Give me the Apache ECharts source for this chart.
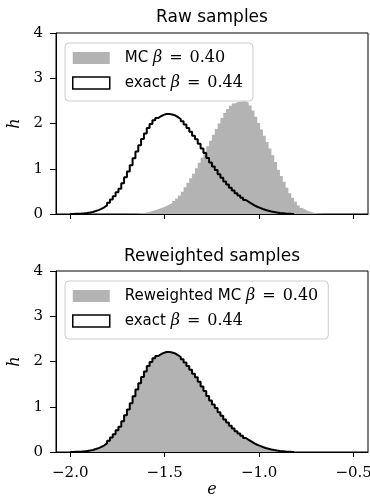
<!DOCTYPE html>
<html>
<head>
<meta charset="utf-8">
<script src="https://cdn.jsdelivr.net/npm/echarts@6/dist/echarts.min.js"></script>
<style>
  html, body { margin: 0; padding: 0; background: #fff; }
  #main { width: 370px; height: 502px; }
</style>
</head>
<body>
<div id="main"></div>
<script>
// histogram bins: 100 bins of width 0.015 from e = -2.0 to -0.5
var binStart = -2.0;
var binWidth = 0.015;
var xTicks = [-2.0, -1.5, -1.0, -0.5];
var titles = ["Raw samples", "Reweighted samples"];
var mcLabels = ["MC", "Reweighted MC"];
var betas = ["0.40", "0.44"];

// exact beta = 0.44
var exactB044 = [
  0.001, 0.003, 0.005, 0.009, 0.014, 0.021, 0.031, 0.046, 0.065, 0.086,
  0.112, 0.148, 0.192, 0.25, 0.32, 0.39, 0.48, 0.56, 0.68, 0.81,
  0.94, 1.08, 1.23, 1.38, 1.52, 1.66, 1.78, 1.90, 1.99, 2.07,
  2.12, 2.16, 2.19, 2.21, 2.21, 2.20, 2.18, 2.14, 2.10, 2.05,
  1.98, 1.90, 1.82, 1.73, 1.65, 1.55, 1.45, 1.35, 1.24, 1.14,
  1.05, 0.97, 0.88, 0.80, 0.72, 0.65, 0.58, 0.52, 0.46, 0.41,
  0.36, 0.31, 0.27, 0.23, 0.19, 0.16, 0.135, 0.11, 0.09, 0.072,
  0.055, 0.043, 0.033, 0.024, 0.018, 0.012, 0.007, 0.004, 0.002, 0,
  0, 0, 0, 0, 0, 0, 0, 0, 0, 0,
  0, 0, 0, 0, 0, 0, 0, 0, 0, 0
];

// raw MC samples at beta = 0.40
var mcRawB040 = [
  0, 0, 0, 0, 0, 0, 0, 0, 0, 0,
  0, 0, 0, 0, 0, 0, 0, 0, 0, 0,
  0.003, 0.005, 0.008, 0.012, 0.017, 0.024, 0.033, 0.045, 0.065, 0.085,
  0.105, 0.125, 0.15, 0.175, 0.21, 0.245, 0.29, 0.34, 0.41, 0.49,
  0.59, 0.69, 0.79, 0.89, 1.01, 1.13, 1.25, 1.38, 1.50, 1.62,
  1.75, 1.88, 2.00, 2.12, 2.23, 2.32, 2.39, 2.44, 2.47, 2.48,
  2.49, 2.49, 2.46, 2.40, 2.29, 2.15, 2.01, 1.87, 1.73, 1.59,
  1.45, 1.30, 1.15, 0.98, 0.84, 0.71, 0.58, 0.46, 0.36, 0.27,
  0.19, 0.135, 0.095, 0.065, 0.045, 0.03, 0.018, 0.01, 0.005, 0.002,
  0, 0, 0, 0, 0, 0, 0, 0, 0, 0
];

// MC samples at beta = 0.40 reweighted to beta = 0.44
var mcReweighted = [
  0.001, 0.003, 0.005, 0.009, 0.014, 0.021, 0.031, 0.046, 0.065, 0.086,
  0.112, 0.148, 0.192, 0.25, 0.32, 0.39, 0.48, 0.56, 0.68, 0.81,
  0.94, 1.08, 1.23, 1.38, 1.52, 1.66, 1.78, 1.90, 1.99, 2.07,
  2.12, 2.16, 2.19, 2.21, 2.21, 2.20, 2.18, 2.14, 2.10, 2.05,
  1.98, 1.90, 1.82, 1.73, 1.65, 1.55, 1.45, 1.35, 1.24, 1.14,
  1.05, 0.97, 0.88, 0.80, 0.72, 0.65, 0.58, 0.52, 0.46, 0.41,
  0.36, 0.31, 0.27, 0.23, 0.19, 0.16, 0.135, 0.11, 0.09, 0.072,
  0.055, 0.043, 0.033, 0.024, 0.018, 0.012, 0.007, 0.004, 0.002, 0,
  0, 0, 0, 0, 0, 0, 0, 0, 0, 0,
  0, 0, 0, 0, 0, 0, 0, 0, 0, 0
];

var gray = "#b3b3b3";
var serif = "DejaVu Serif";
var sans = "DejaVu Sans";

// step outline points: [left edge, height] for each bin, closed down to 0
function histPoints(values) {
  var first = -1, last = -1;
  for (var i = 0; i < values.length; i++) {
    if (values[i] > 0) { if (first < 0) first = i; last = i; }
  }
  var pts = [[binStart + first * binWidth, 0]];
  for (var j = first; j <= last; j++) {
    pts.push([binStart + j * binWidth, values[j]]);
  }
  pts.push([binStart + (last + 1) * binWidth, 0]);
  return pts;
}

function fmtTick(v) {
  return (v < 0 ? "\u2212" : "") + Math.abs(v).toFixed(1);
}

function legendLabel(text, beta) {
  return "{t|" + text + " }{b|β}{q|=}{m|" + beta + "}";
}

var legendText = {
  raw_mc: legendLabel(mcLabels[0], betas[0]),
  raw_exact: legendLabel("exact", betas[1]),
  rw_mc: legendLabel(mcLabels[1], betas[0]),
  rw_exact: legendLabel("exact", betas[1])
};

function makeX(idx, showLabels) {
  return {
    type: "value", gridIndex: idx, min: -2.0755, max: -0.4237,
    axisLine: { show: true, onZero: false, lineStyle: { color: "#000", width: 1 } },
    axisTick: { show: true, inside: false, length: 5, customValues: xTicks, lineStyle: { color: "#000", width: 1 } },
    axisLabel: { show: showLabels, customValues: xTicks, formatter: fmtTick, margin: 14,
      fontFamily: serif, fontSize: 15, color: "#000" },
    splitLine: { show: false },
    name: showLabels ? "e" : "", nameLocation: "middle", nameGap: 27,
    nameTextStyle: { fontFamily: serif, fontStyle: "italic", fontSize: 16, color: "#000" }
  };
}

function makeY(idx) {
  return {
    type: "value", gridIndex: idx, min: 0, max: 4, interval: 1,
    axisLine: { show: true, lineStyle: { color: "#000", width: 1 } },
    axisTick: { show: true, inside: false, length: 6, lineStyle: { color: "#000", width: 1 } },
    axisLabel: { margin: 13, fontFamily: serif, fontSize: 15, color: "#000" },
    splitLine: { show: false },
    name: "h", nameLocation: "middle", nameGap: 28, nameRotate: 90,
    nameTextStyle: { fontFamily: serif, fontStyle: "italic", fontSize: 16, color: "#000" }
  };
}

function makeLegend(top, mcName, exactName) {
  return {
    orient: "vertical", left: 65, top: top,
    itemWidth: 37, itemHeight: 12, itemGap: 9,
    padding: [7, 10, 10, 7],
    backgroundColor: "rgba(255,255,255,0.8)",
    borderColor: "#cccccc", borderWidth: 1, borderRadius: 4,
    selectedMode: false,
    data: [
      { name: mcName, icon: "rect", itemStyle: { color: gray, borderWidth: 0 } },
      { name: exactName, icon: "rect", itemStyle: { color: "#fff", borderColor: "#000", borderWidth: 1.5 } }
    ],
    formatter: function (name) { return legendText[name]; },
    textStyle: {
      color: "#000", padding: [0, 0, 0, 10],
      rich: {
        t: { fontFamily: sans, fontSize: 15, color: "#000" },
        b: { fontFamily: serif, fontStyle: "italic", fontSize: 16, color: "#000" },
        q: { fontFamily: serif, fontSize: 16, color: "#000", padding: [0, 7, 0, 7] },
        m: { fontFamily: serif, fontSize: 16, color: "#000" }
      }
    }
  };
}

function areaSeries(name, idx, values) {
  return {
    name: name, type: "line", xAxisIndex: idx, yAxisIndex: idx,
    step: "end", symbol: "none", data: histPoints(values),
    itemStyle: { color: gray },
    lineStyle: { width: 0, opacity: 0 },
    areaStyle: { color: gray, opacity: 1 },
    z: 2
  };
}

function stepSeries(name, idx, values) {
  return {
    name: name, type: "line", xAxisIndex: idx, yAxisIndex: idx,
    step: "end", symbol: "none", data: histPoints(values),
    itemStyle: { color: "#000" },
    lineStyle: { color: "#000", width: 2 },
    z: 3
  };
}

var chart = echarts.init(document.getElementById("main"), null, { renderer: "canvas" });
chart.setOption({
  animation: false,
  backgroundColor: "#fff",
  title: [
    { text: titles[0], left: 212, top: 9, textAlign: "center", padding: 0,
      textStyle: { fontFamily: sans, fontSize: 17, fontWeight: "normal", color: "#000" } },
    { text: titles[1], left: 212, top: 248, textAlign: "center", padding: 0,
      textStyle: { fontFamily: sans, fontSize: 17, fontWeight: "normal", color: "#000" } }
  ],
  grid: [
    { left: 56, top: 33, width: 312, height: 181, show: true, borderColor: "#000", borderWidth: 1,
      backgroundColor: "transparent", containLabel: false, outerBoundsMode: "none" },
    { left: 56, top: 271, width: 312, height: 181, show: true, borderColor: "#000", borderWidth: 1,
      backgroundColor: "transparent", containLabel: false, outerBoundsMode: "none" }
  ],
  xAxis: [makeX(0, false), makeX(1, true)],
  yAxis: [makeY(0), makeY(1)],
  legend: [
    makeLegend(43, "raw_mc", "raw_exact"),
    makeLegend(281, "rw_mc", "rw_exact")
  ],
  series: [
    areaSeries("raw_mc", 0, mcRawB040),
    stepSeries("raw_exact", 0, exactB044),
    areaSeries("rw_mc", 1, mcReweighted),
    stepSeries("rw_exact", 1, exactB044)
  ]
});
</script>
</body>
</html>
